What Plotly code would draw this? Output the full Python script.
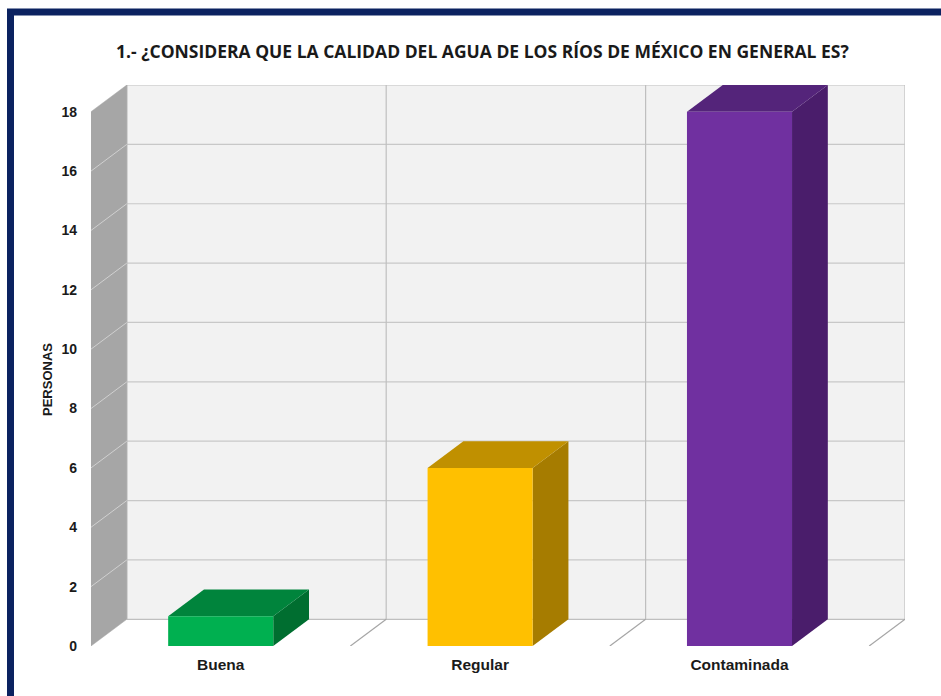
import plotly.graph_objects as go

# Survey answers
categories = ["Buena", "Regular", "Contaminada"]
personas = [1, 6, 18]
tick_values = [0, 2, 4, 6, 8, 10, 12, 14, 16, 18]

front_colors = ["#00b050", "#ffc000", "#7030a0"]
top_colors = ["#00843c", "#c09000", "#54247a"]
side_colors = ["#006e30", "#a67c00", "#4a1d6b"]

title_text = "1.- ¿CONSIDERA QUE LA CALIDAD DEL AGUA DE LOS RÍOS DE MÉXICO EN GENERAL ES?"
y_title = "PERSONAS"

# Figure geometry (pixels)
W, H = 941, 696
L, R, T, B = 91, 36, 85, 50
PW, PH = W - L - R, H - T - B

# Pseudo-3D depth offsets, in data units
DX = 0.138
DY = 0.9
YMAX = 18
BAR_W = 0.405
N = len(categories)


def px_x(px):
    return (px - L) / PW


def px_y(py):
    return (H - B - py) / PH


fig = go.Figure()


def poly(xs, ys, fill, line_color=None, line_width=0):
    fig.add_trace(go.Scatter(
        x=xs + [xs[0]], y=ys + [ys[0]], mode="lines", fill="toself",
        fillcolor=fill,
        line=dict(color=line_color or fill, width=line_width),
        hoverinfo="skip", showlegend=False))


def seg(x0, y0, x1, y1, color, width=1):
    fig.add_trace(go.Scatter(
        x=[x0, x1], y=[y0, y1], mode="lines",
        line=dict(color=color, width=width),
        hoverinfo="skip", showlegend=False))


# Back wall
poly([DX, N + DX, N + DX, DX], [DY, DY, YMAX + DY, YMAX + DY],
     "#f2f2f2", "#bfbfbf", 1.2)
for v in tick_values[1:-1]:
    seg(DX, v + DY, N + DX, v + DY, "#c8c8c8", 1.2)
for k in range(1, N):
    seg(k + DX, DY, k + DX, YMAX + DY, "#bfbfbf", 1.2)

# Side wall
poly([0, DX, DX, 0], [0, DY, YMAX + DY, YMAX], "#a6a6a6", "#a6a6a6", 0.5)
for v in tick_values[1:-1]:
    seg(0, v, DX, v + DY, "#d0d0d0", 1)

# Floor division lines
for k in range(1, N + 1):
    seg(k, 0, k + DX, DY, "#a6a6a6", 1.2)

# Bars
for i, v in enumerate(personas):
    c = i + 0.5
    x0, x1 = c - BAR_W / 2, c + BAR_W / 2
    poly([x1, x1 + DX, x1 + DX, x1], [0, DY, v + DY, v], side_colors[i])
    poly([x0, x1, x1 + DX, x0 + DX], [v, v, v + DY, v + DY], top_colors[i])
    poly([x0, x1, x1, x0], [0, 0, v, v], front_colors[i])

fig.update_layout(
    width=W, height=H,
    margin=dict(l=L, r=R, t=T, b=B),
    paper_bgcolor="white", plot_bgcolor="white",
    xaxis=dict(range=[0, N + DX], showgrid=False, zeroline=False,
               showline=False, tickmode="array",
               tickvals=[i + 0.5 for i in range(N)], ticktext=categories,
               ticks="", ticklabelstandoff=7,
               tickfont=dict(family="Liberation Sans", size=15.5,
                             color="#1a1a1a", weight="bold")),
    yaxis=dict(range=[0, YMAX + DY], showgrid=False, zeroline=False,
               showline=False, tickmode="array", tickvals=tick_values,
               ticks="", ticklabelstandoff=13,
               tickfont=dict(family="Liberation Sans", size=14,
                             color="#1a1a1a", weight="bold")),
    annotations=[
        dict(text=title_text, xref="paper", yref="paper",
             x=px_x(482), y=px_y(51), xanchor="center", yanchor="middle",
             showarrow=False,
             font=dict(family="Open Sans", size=17.5, color="#1a1a1a",
                       weight="bold")),
        dict(text=y_title, xref="paper", yref="paper",
             x=px_x(47), y=px_y(380), xanchor="center", yanchor="middle",
             textangle=-90, showarrow=False,
             font=dict(family="Liberation Sans", size=13, color="#1a1a1a",
                       weight="bold")),
    ],
    shapes=[
        dict(type="rect", xref="paper", yref="paper", layer="above",
             x0=px_x(10.5), x1=px_x(1000), y0=px_y(12), y1=px_y(760),
             line=dict(color="#0b2260", width=7), fillcolor="rgba(0,0,0,0)"),
    ],
)

fig.write_html("out.html")
